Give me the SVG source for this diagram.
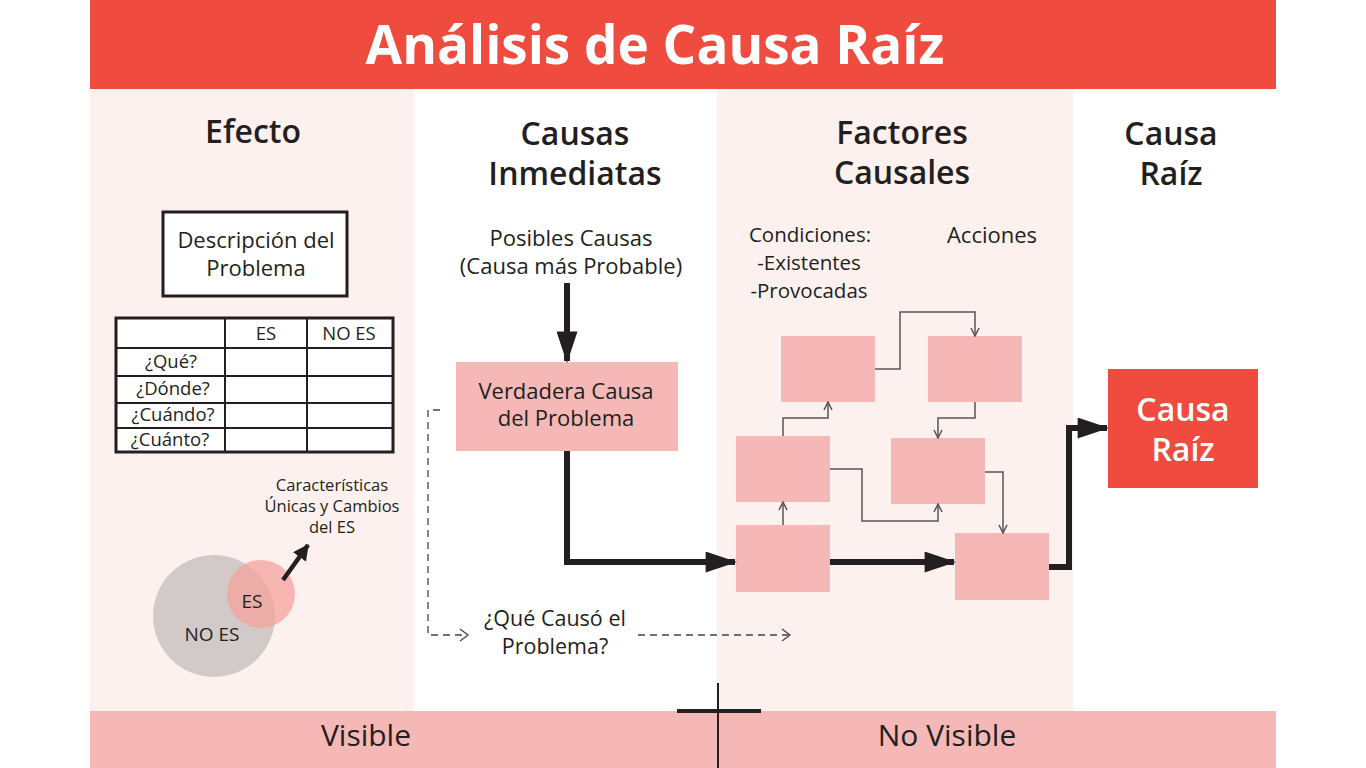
<svg xmlns="http://www.w3.org/2000/svg" width="1366" height="768" viewBox="0 0 1366 768">
<defs>
<style>
text{font-family:"Open Sans",Lato,"Liberation Sans",sans-serif;fill:#231f20;text-anchor:middle}
.title{font-size:53px;font-weight:700;fill:#fff}
.h{font-size:32px;font-weight:600}
.b{font-size:22px}
.c{font-size:20.5px}
.t{font-size:18.5px}
.s{font-size:16.5px}
.band{font-size:30px}
.pink{fill:#f6b8b6}
.thin{fill:none;stroke:#555;stroke-width:1.5}
.thick{fill:none;stroke:#231f20;stroke-width:6}
.dash{fill:none;stroke:#444;stroke-width:1.3;stroke-dasharray:7 5}
.chev{fill:none;stroke:#444;stroke-width:1.3}
</style>
<marker id="oa" viewBox="0 0 10 10" refX="9" refY="5" markerWidth="10" markerHeight="10" markerUnits="userSpaceOnUse" orient="auto">
<path d="M1,1 L9,5 L1,9" fill="none" stroke="#555" stroke-width="1.5"/>
</marker>
<marker id="fa" viewBox="0 0 15 10" refX="14" refY="5" markerWidth="5.3" markerHeight="3.5" orient="auto">
<path d="M0,0 L15,5 L0,10 z" fill="#231f20"/>
</marker>
<marker id="fa2" viewBox="0 0 12 12" refX="11" refY="6" markerWidth="16" markerHeight="16" markerUnits="userSpaceOnUse" orient="auto">
<path d="M0,0 L12,6 L0,12 z" fill="#231f20"/>
</marker>
</defs>
<!-- backgrounds -->
<rect x="90" y="89" width="324" height="623" fill="#fdf1ef"/>
<rect x="414" y="89" width="303" height="623" fill="#ffffff"/>
<rect x="717" y="89" width="356" height="623" fill="#fdf1ef"/>
<rect x="1073" y="89" width="203" height="623" fill="#ffffff"/>
<rect x="90" y="0" width="1186" height="89" fill="#ef4b3f"/>
<text class="title" x="655" y="64">Análisis de Causa Raíz</text>
<rect x="90" y="711" width="1186" height="57" fill="#f6b8b6"/>
<text class="band" x="366" y="746">Visible</text>
<text class="band" x="947" y="746">No Visible</text>
<g id="cross">
<line x1="718" y1="683" x2="718" y2="768" stroke="#231f20" stroke-width="2"/>
<line x1="677" y1="711" x2="761" y2="711" stroke="#231f20" stroke-width="4"/>
</g>
<!-- headings -->
<text class="h" x="253" y="143">Efecto</text>
<text class="h" x="575" y="145">Causas</text>
<text class="h" x="575" y="185">Inmediatas</text>
<text class="h" x="902" y="144">Factores</text>
<text class="h" x="902" y="184">Causales</text>
<text class="h" x="1171" y="145">Causa</text>
<text class="h" x="1171" y="185">Raíz</text>
<!-- Efecto column -->
<g id="descripcion">
<rect x="163" y="212" width="184" height="84" fill="#fff" stroke="#231f20" stroke-width="3"/>
<text class="b" x="256" y="248">Descripción del</text>
<text class="b" x="256" y="276">Problema</text>
</g>
<g id="tabla">
<rect x="116" y="318" width="277" height="134" fill="#fff" stroke="#231f20" stroke-width="3"/>
<path d="M225,318 V452 M307,318 V452 M116,348 H393 M116,376 H393 M116,403 H393 M116,428 H393" stroke="#231f20" stroke-width="2" fill="none"/>
<text class="t" x="266" y="340">ES</text>
<text class="t" x="349" y="340">NO ES</text>
<text class="t" x="171" y="368">¿Qué?</text>
<text class="t" x="173" y="395">¿Dónde?</text>
<text class="t" x="173" y="421">¿Cuándo?</text>
<text class="t" x="170" y="446">¿Cuánto?</text>
</g>
<g id="venn">
<circle cx="214" cy="616" r="61" fill="#c9c3c2" fill-opacity="0.85"/>
<circle cx="261" cy="594" r="34" fill="#f4a19c" fill-opacity="0.75"/>
<text x="252" y="608" style="font-size:19px">ES</text>
<text x="212" y="641" style="font-size:19px">NO ES</text>
<line x1="283" y1="580" x2="308" y2="545" stroke="#231f20" stroke-width="4.5" marker-end="url(#fa2)"/>
<text class="s" x="332" y="491">Características</text>
<text class="s" x="332" y="512">Únicas y Cambios</text>
<text class="s" x="332" y="533">del ES</text>
</g>
<!-- Causas inmediatas -->
<text class="b" x="571" y="246">Posibles Causas</text>
<text class="b" x="571" y="274">(Causa más Probable)</text>
<g id="verdadera">
<rect class="pink" x="456" y="362" width="222" height="89"/>
<text class="b" x="566" y="399">Verdadera Causa</text>
<text class="b" x="566" y="426">del Problema</text>
</g>
<text x="555" y="626" style="font-size:21.5px">¿Qué Causó el</text>
<text x="555" y="654" style="font-size:21.5px">Problema?</text>
<!-- Factores causales -->
<text class="c" x="810" y="242">Condiciones:</text>
<text class="c" x="809" y="270">-Existentes</text>
<text class="c" x="809" y="298">-Provocadas</text>
<text class="b" x="992" y="243">Acciones</text>
<g id="f1"><rect class="pink" x="781" y="336" width="94" height="66"/></g>
<g id="f2"><rect class="pink" x="928" y="336" width="94" height="66"/></g>
<g id="f3"><rect class="pink" x="736" y="436" width="94" height="66"/></g>
<g id="f4"><rect class="pink" x="891" y="438" width="94" height="66"/></g>
<g id="f5"><rect class="pink" x="736" y="525" width="94" height="67"/></g>
<g id="f6"><rect class="pink" x="955" y="533" width="94" height="67"/></g>
<g id="raiz">
<rect x="1108" y="369" width="150" height="119" fill="#ef4b3f"/>
<text x="1183" y="421" style="font-size:32px;fill:#fff;font-weight:600">Causa</text>
<text x="1183" y="461" style="font-size:32px;fill:#fff;font-weight:600">Raíz</text>
</g>
<g id="connectors">
<line class="thick" x1="567" y1="283" x2="567" y2="361" marker-end="url(#fa)"/>
<path class="thick" d="M567,451 V562 H735" marker-end="url(#fa)"/>
<path class="thick" d="M830,562 H954" marker-end="url(#fa)"/>
<path class="thick" d="M1049,567 H1069 V428 H1107" marker-end="url(#fa)"/>
<path class="dash" d="M440,410 H428 V635 H464"/>
<path class="chev" d="M460,629 L468,635 L460,641"/>
<path class="dash" d="M638,635 H788"/>
<path class="chev" d="M782,629 L790,635 L782,641"/>
<path class="thin" d="M875,369 H900 V312 H975 V336" marker-end="url(#oa)"/>
<path class="thin" d="M975,402 V418 H938 V438" marker-end="url(#oa)"/>
<path class="thin" d="M783,436 V418 H828 V402" marker-end="url(#oa)"/>
<path class="thin" d="M830,469 H862 V521 H938 V504" marker-end="url(#oa)"/>
<path class="thin" d="M985,472 H1003 V533" marker-end="url(#oa)"/>
<path class="thin" d="M783,525 V502" marker-end="url(#oa)"/>
</g>
</svg>
